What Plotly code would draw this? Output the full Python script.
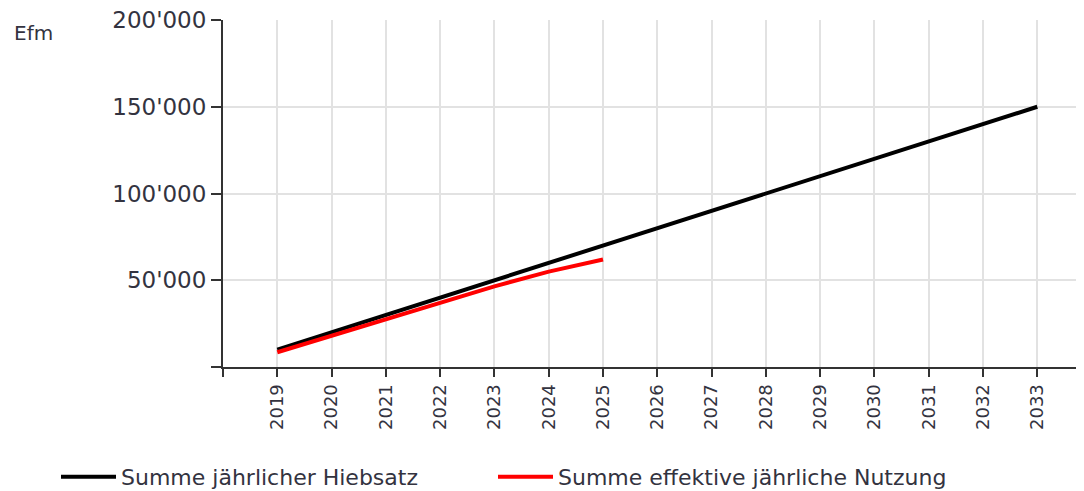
import plotly.graph_objects as go

years = list(range(2019, 2034))
hiebsatz = [10000, 20000, 30000, 40000, 50000, 60000, 70000, 80000, 90000,
            100000, 110000, 120000, 130000, 140000, 150000]
nutzung_years = list(range(2019, 2026))
nutzung = [8500, 18000, 28000, 37500, 46500, 55000, 62000]

x_tickvals = list(range(2018, 2034))
x_ticktext = [""] + [str(y) for y in years]
y_tickvals = [0, 50000, 100000, 150000, 200000]
y_ticktext = ["", "50'000", "100'000", "150'000", "200'000"]

name_black = "Summe jährlicher Hiebsatz"
name_red = "Summe effektive jährliche Nutzung"

# page body has an 8px default margin; the figure is sized to fill the rest
W, H = 1076, 483
L, T, B = 215, 12, 124
PW, PH = W - L, H - T - B


def px(xf):
    return (xf - L) / PW


def py(yf):
    return (T + PH - yf) / PH


fig = go.Figure()
fig.add_trace(go.Scatter(x=years, y=hiebsatz, mode="lines", name=name_black,
                         line=dict(color="#000000", width=4), legend="legend"))
fig.add_trace(go.Scatter(x=nutzung_years, y=nutzung, mode="lines", name=name_red,
                         line=dict(color="#ff0000", width=4), legend="legend2"))

leg_common = dict(orientation="h", xanchor="left", yanchor="middle",
                  font=dict(size=22, color="#333340"), itemwidth=55,
                  bgcolor="rgba(0,0,0,0)")

fig.update_layout(
    width=W, height=H,
    margin=dict(l=L, r=0, t=T, b=B, autoexpand=False),
    paper_bgcolor="white", plot_bgcolor="white",
    font=dict(family="DejaVu Sans", color="#333340"),
    showlegend=True,
    legend=dict(x=px(48), y=py(469), **leg_common),
    legend2=dict(x=px(485), y=py(469), **leg_common),
    xaxis=dict(range=[2018, 2033.86], tickmode="array", tickvals=x_tickvals,
               ticktext=x_ticktext, tickangle=-90, tickfont=dict(size=18),
               showgrid=True, gridcolor="#e2e2e2", gridwidth=2,
               showline=True, linecolor="#333333", linewidth=2,
               ticks="outside", ticklen=8, tickwidth=2, tickcolor="#333333",
               zeroline=False, fixedrange=True, ticklabeloverflow="allow"),
    yaxis=dict(range=[0, 200000], tickmode="array", tickvals=y_tickvals,
               ticktext=y_ticktext, tickfont=dict(size=23),
               showgrid=True, gridcolor="#e2e2e2", gridwidth=2,
               showline=True, linecolor="#333333", linewidth=2,
               ticks="outside", ticklen=10, tickwidth=2, tickcolor="#333333",
               zeroline=False, fixedrange=True, ticklabeloverflow="allow"),
)
fig.add_annotation(text="Efm", xref="paper", yref="paper",
                   x=px(4), y=py(25), xanchor="left", yanchor="middle",
                   showarrow=False, font=dict(size=20, color="#333340"))

fig.write_html("out.html")
